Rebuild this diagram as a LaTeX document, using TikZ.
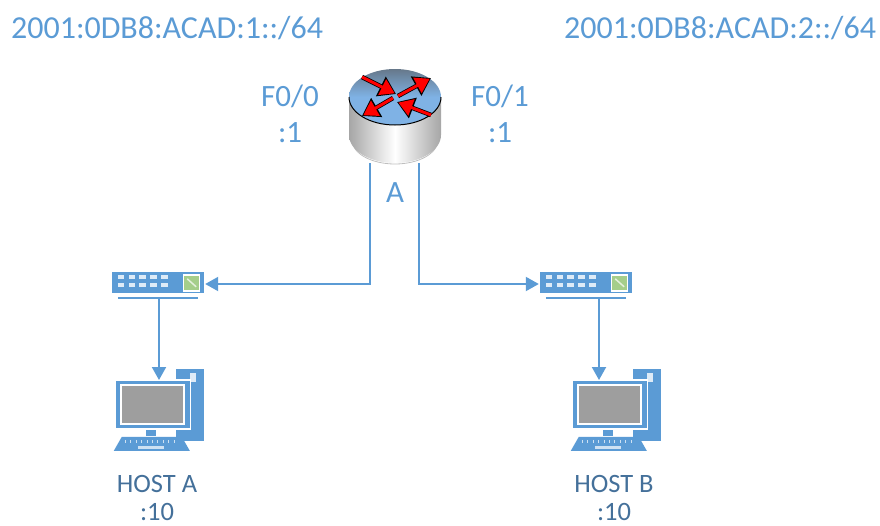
\documentclass[tikz,border=0pt]{standalone}
\usepackage{fontspec}
\setmainfont{Carlito}
\usetikzlibrary{positioning, arrows.meta}
\definecolor{netblue}{HTML}{5B9BD5}
\definecolor{hostblue}{HTML}{44709A}
\definecolor{rttop}{HTML}{66788A}
\definecolor{rtbot}{HTML}{7FB2E5}
\definecolor{swgreen}{HTML}{A5CE8A}
\tikzset{
    link/.style = {netblue, line width=2pt, -{Triangle[length=13pt,width=14pt]}},
    nettext/.style = {text=netblue, font=\fontsize{32}{32}\selectfont, inner sep=0pt},
    porttext/.style = {text=netblue, font=\fontsize{31}{31}\selectfont, inner sep=0pt},
    hosttext/.style = {text=hostblue, font=\fontsize{26.5}{26}\selectfont, inner sep=0pt},
    routerbox/.style = {minimum width=92pt, minimum height=94pt, inner sep=0pt},
    switchbox/.style = {minimum width=92pt, minimum height=21pt, inner sep=0pt, fill=netblue},
    hostbox/.style = {minimum width=91pt, minimum height=82pt, inner sep=0pt},
}
\newcommand{\switchicon}[1]{%
    \foreach \i in {0,...,4} {
        \foreach \j in {0,1} {
            \fill[white!80!netblue] ([shift={(6+\i*10.8,3.5+\j*8)}]#1.north west) rectangle ++(6.5,4);
        }
    }
    \fill[white] ([shift={(-21,2)}]#1.north east) rectangle ++(17,18);
    \fill[swgreen] ([shift={(-20,4)}]#1.north east) rectangle ++(15,14);
    \draw[white!70!swgreen, line width=1.5pt] ([shift={(-17,7)}]#1.north east) -- ++(9,8);
    \draw[netblue, line width=2pt] ([shift={(6,5)}]#1.south west) -- ([shift={(-6,5)}]#1.south east);
}
\newcommand{\hosticon}[1]{%
    \fill[netblue] ([shift={(63,0)}]#1.north west) rectangle ++(28,72);
    \fill[white!80!netblue] ([shift={(77,4)}]#1.north west) rectangle ++(6,9);
    \fill[white] ([shift={(1,10)}]#1.north west) rectangle ++(77,51);
    \fill[netblue] ([shift={(2.5,12)}]#1.north west) rectangle ++(74,47);
    \fill[white] ([shift={(6.5,15)}]#1.north west) rectangle ++(65,41);
    \fill[black!38] ([shift={(8.5,17)}]#1.north west) rectangle ++(61,37);
    \fill[netblue] ([shift={(33,61)}]#1.north west) rectangle ++(10,6);
    \fill[netblue] ([shift={(0.5,82)}]#1.north west) -- ++(76,0) -- ++(-8,-14) -- ++(-60,0) -- cycle;
    \foreach \i in {0,...,9} {
        \draw[white!70!netblue, line width=0.8pt] ([shift={(12+\i*5.4,71)}]#1.north west) -- ++(0,3);
    }
    \fill[white!70!netblue] ([shift={(25,77)}]#1.north west) rectangle ++(26,3);
}
\begin{document}
\begin{tikzpicture}[x=1pt, y=-1pt]
    \useasboundingbox (0,0) rectangle (880,525);

    % router
    \node[routerbox] (rt) at (395,117) {};
    \draw[black!25, line width=0.8pt] (352,140) arc[start angle=180, end angle=0, x radius=43, y radius=24];
    \shade[left color=black!35, right color=black!35, middle color=white]
        (349,97) -- (349,135) arc[start angle=180, end angle=0, x radius=46, y radius=28] -- (441,97) -- cycle;
    \shade[top color=rttop, bottom color=rtbot, middle color=rtbot]
        (395,97) ellipse[x radius=46, y radius=28];
    \draw[black, line width=1pt] (349,97) arc[start angle=180, end angle=0, x radius=46, y radius=28];
    \foreach \xa/\ya/\xb/\yb in {362/77/396/94, 398/96/431/78, 393/98/362/116, 431/115/397/102} {
        \draw[black, line width=4.5pt, -{Triangle[length=17pt,width=21pt]}] (\xa,\ya) -- (\xb,\yb);
        \draw[red, line width=3pt, shorten >=1.5pt, -{Triangle[length=14pt,width=17pt]}] (\xa,\ya) -- (\xb,\yb);
    }
    \node[porttext] (rname) at (395,193) {A};

    % addresses
    \node[nettext] (neta) at (167,28) {2001:0DB8:ACAD:1::/64};
    \node[nettext] (netb) at (720,28) {2001:0DB8:ACAD:2::/64};
    \node[porttext] (fa) at (290,96) {F0/0};
    \node[porttext] (fb) at (500,96) {F0/1};
    \node[porttext] (ipa) at (290,133) {:1};
    \node[porttext] (ipb) at (500,133) {:1};

    % switches
    \node[switchbox] (swa) at (158,282.5) {};
    \node[switchbox] (swb) at (586,282.5) {};
    \switchicon{swa}
    \switchicon{swb}

    % hosts
    \node[hostbox] (hosta) at (159,410) {};
    \node[hostbox] (hostb) at (616,410) {};
    \hosticon{hosta}
    \hosticon{hostb}
    \node[hosttext] (labela) at (157,484) {HOST A};
    \node[hosttext] (labelb) at (614,484) {HOST B};
    \node[hosttext] (ipha) at (157,512) {:10};
    \node[hosttext] (iphb) at (614,512) {:10};

    \coordinate (rtl) at (370,163);
    \coordinate (rtr) at (419,163);
    \coordinate (sla) at (159,298);
    \coordinate (slb) at (599,298);
    \coordinate (taa) at (159,380);
    \coordinate (tab) at (599,380);

    \draw[link] (rtl) |- ([yshift=-1.5pt,xshift=1pt]swa.east);
    \draw[link] (rtr) |- ([yshift=-1.5pt,xshift=-1pt]swb.west);
    \draw[link] (sla) -- (taa);
    \draw[link] (slb) -- (tab);
\end{tikzpicture}
\end{document}
